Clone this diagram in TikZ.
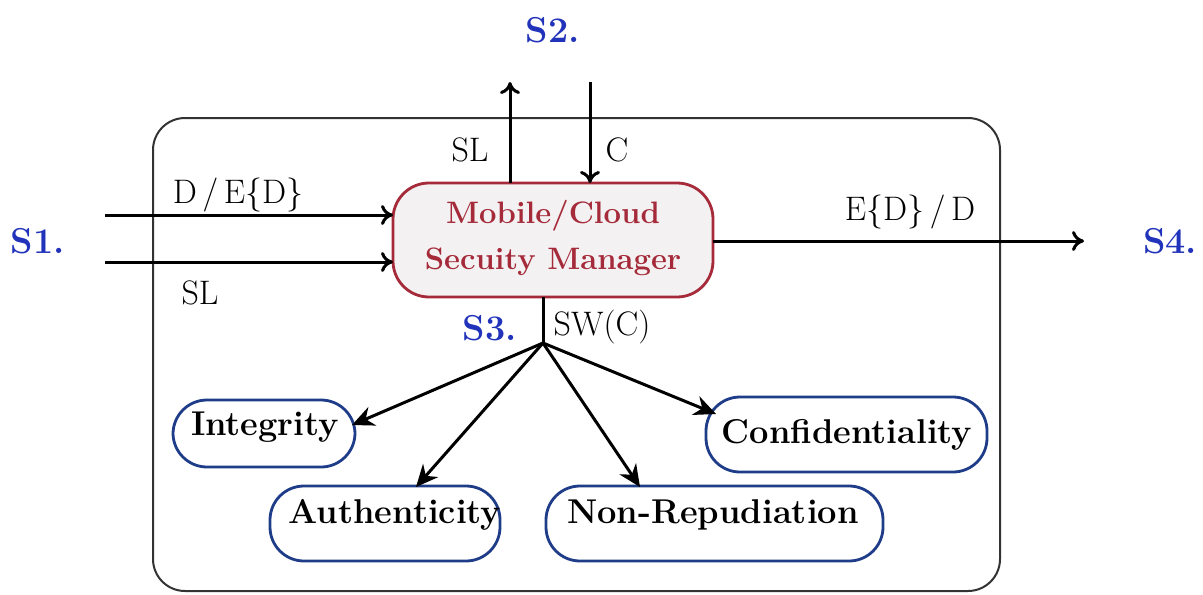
\documentclass[tikz,border=0pt]{standalone}
\usetikzlibrary{arrows.meta}
\definecolor{mgrred}{HTML}{A52A3A}
\definecolor{mgrfill}{HTML}{F3F1F1}
\definecolor{propblue}{HTML}{1F3C88}
\definecolor{sblue}{HTML}{2233BB}
\begin{document}
\begin{tikzpicture}[x=0.5pt,y=-0.5pt,
  every node/.style={inner sep=0pt,outer sep=0pt},
  frame/.style={draw=black!80,line width=1pt,rounded corners=16pt},
  mgr/.style={draw=mgrred,fill=mgrfill,line width=1.4pt,rounded corners=18pt},
  prop/.style={draw=propblue,line width=1.4pt,rounded corners=17pt},
  proptext/.style={font=\fontsize{17.2}{20}\selectfont\bfseries},
  lbl/.style={font=\fontsize{17}{20}\selectfont},
  stage/.style={font=\fontsize{18}{20}\selectfont\bfseries,text=sblue},
  conn/.style={line width=1.5pt,-{To[length=6pt,width=10pt,line width=1.5pt]}},
  fconn/.style={line width=1.5pt,-{Stealth[length=11pt,width=10pt]}},
  plain/.style={line width=1.5pt}]
\useasboundingbox (0,0) rectangle (1203,594);
\fill[white] (0,0) rectangle (1203,594);
% outer frame
\draw[frame] (153,118) rectangle (1000,591);
% manager
\draw[mgr] (393,183) rectangle (713,297);
\node[font=\fontsize{15.5}{18}\selectfont\bfseries,text=mgrred,align=center] (mgrt) at (553,216) {Mobile/Cloud};
\node[font=\fontsize{15.5}{18}\selectfont\bfseries,text=mgrred,align=center] (mgrb) at (553,262) {Secuity Manager};
\coordinate (mL1) at (393,215);
\coordinate (mL2) at (393,262);
\coordinate (mT1) at (510,183);
\coordinate (mT2) at (590,183);
\coordinate (mR) at (713,241);
\coordinate (mB) at (543,297);
% stage labels
\node[stage] (s1) at (38,241) {S1.};
\node[stage] (s2) at (553,30) {S2.};
\node[stage] (s3) at (490,328) {S3.};
\node[stage] (s4) at (1170,241) {S4.};
% inputs
\coordinate (in1) at (105,215);
\coordinate (in2) at (105,262);
\draw[conn] (in1) -- (mL1);
\draw[conn] (in2) -- (mL2);
\node[lbl] (ldd) at (238,195) {D\,/\,E\{D\}};
\node[lbl] (lsl1) at (200,293) {SL};
% top
\coordinate (up) at (510,82);
\coordinate (down) at (590,82);
\draw[conn] (mT1) -- (up);
\draw[conn] (down) -- (mT2);
\node[lbl] (lsl2) at (470,150) {SL};
\node[lbl] (lc) at (617,150) {C};
% output
\coordinate (out) at (1084,241);
\draw[conn] (mR) -- (out);
\node[lbl] (led) at (910,212) {E\{D\}\,/\,D};
% branching
\coordinate (hub) at (543,343);
\draw[plain] (mB) -- (hub);
\node[lbl] (lsw) at (602,327) {SW(C)};
% properties
\draw[prop] (173,400) rectangle (355,467);
\node[proptext] (integ) at (265,427) {Integrity};
\draw[prop] (270,486) rectangle (500,561);
\node[proptext] (auth) at (395,515) {Authenticity};
\draw[prop] (546,486) rectangle (883,561);
\node[proptext] (nonrep) at (713,515) {Non-Repudiation};
\draw[prop] (706,397) rectangle (987,472);
\node[proptext] (conf) at (847,435) {Confidentiality};
\coordinate (tI) at (352,425);
\coordinate (tA) at (416,487);
\coordinate (tN) at (640,487);
\coordinate (tC) at (716,414);
\draw[fconn] (hub) -- (tI);
\draw[fconn] (hub) -- (tA);
\draw[fconn] (hub) -- (tN);
\draw[fconn] (hub) -- (tC);
\end{tikzpicture}
\end{document}
